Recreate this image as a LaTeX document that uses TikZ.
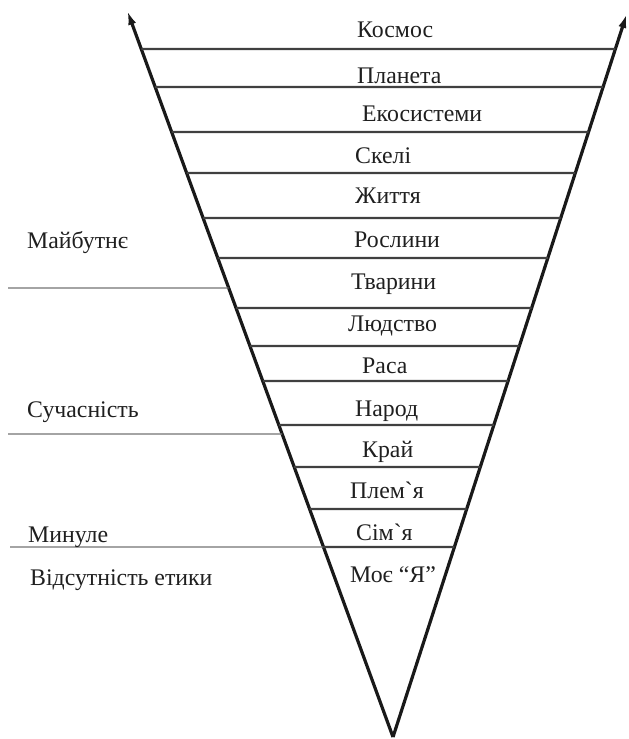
\documentclass[tikz,border=0pt]{standalone}
\usepackage{fontspec}
\setmainfont{Liberation Serif}
\usetikzlibrary{calc,arrows.meta}
\begin{document}
\begin{tikzpicture}[x=1pt,y=-1pt,
  vline/.style={line width=3.2pt,draw=black!90,-{Latex[length=15pt,width=8pt]}},
  hline/.style={line width=2.1pt,draw=black!75},
  sideline/.style={line width=1.4pt,draw=black!55},
  lbl/.style={anchor=base west,inner sep=0pt,text=black!88,font=\fontsize{23.8}{28}\selectfont}]
\useasboundingbox (0,0) rectangle (629,739);
\coordinate (A) at (393,737);
\coordinate (L) at (127,10);
\coordinate (R) at (627,13);
\draw[vline] (A) -- (L);
\draw[vline] (A) -- (R);
\foreach \yy in {49,87,132,173,218,258,308,346,381,425,467,509,547}{
  \draw[hline] ($(A)!{(737-\yy)/727}!(L)$) -- ($(A)!{(737-\yy)/724}!(R)$);
}
% side lines
\coordinate (s1) at (8,288);
\coordinate (s2) at (8,434);
\coordinate (s3) at (10,547);
\draw[sideline] (s1) -- ($(A)!{(737-288)/727}!(L)$);
\draw[sideline] (s2) -- ($(A)!{(737-434)/727}!(L)$);
\draw[sideline] (s3) -- ($(A)!{(737-547)/727}!(L)$);
% inner labels
\node[lbl] (t1) at (357,37) {Космос};
\node[lbl] (t2) at (357,83) {Планета};
\node[lbl] (t3) at (362,121) {Екосистеми};
\node[lbl] (t4) at (355,163) {Скелі};
\node[lbl] (t5) at (355,203) {Життя};
\node[lbl] (t6) at (354,247) {Рослини};
\node[lbl] (t7) at (351,289) {Тварини};
\node[lbl] (t8) at (348,331) {Людство};
\node[lbl] (t9) at (362,373) {Раса};
\node[lbl] (t10) at (355,416) {Народ};
\node[lbl] (t11) at (362,457) {Край};
\node[lbl] (t12) at (350,498) {Плем\textasciigrave я};
\node[lbl] (t13) at (356,540) {Сім\textasciigrave я};
\node[lbl] (t14) at (350,582) {Моє “Я”};
% side labels
\node[lbl] (m1) at (27,248) {Майбутнє};
\node[lbl] (m2) at (27,417) {Сучасність};
\node[lbl] (m3) at (28,542) {Минуле};
\node[lbl] (m4) at (30,585) {Відсутність етики};
\end{tikzpicture}
\end{document}
